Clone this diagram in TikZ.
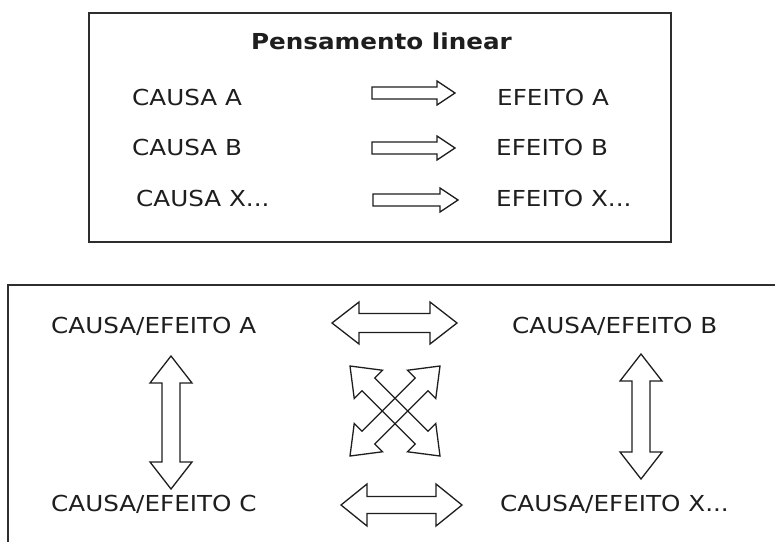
\documentclass[tikz,border=0pt]{standalone}
\usepackage{fontspec}
\setmainfont{DejaVu Sans}[FakeStretch=1.12]
\usetikzlibrary{calc}
\definecolor{ink}{HTML}{1E1E1E}
\definecolor{boxline}{HTML}{2E2E2E}
\tikzset{
  frame/.style={draw=boxline, line width=1.4pt},
  blockarrow/.style={draw=ink, line width=1.3pt, line join=miter},
  lbl/.style={font=\fontsize{22}{26}\selectfont, text=ink, inner sep=0pt, anchor=base west},
  title/.style={font=\fontsize{22}{26}\selectfont\bfseries, text=ink, inner sep=0pt, anchor=base},
}
\newcommand\dblarrow[5]{% tip1, tip2, head length, head half width, shaft half width
  \path ($(#1)!#3!(#2)$) coordinate (da) ($(#2)!#3!(#1)$) coordinate (db);
  \draw[blockarrow] (#1) -- ($(da)!#4!90:(#2)$) -- ($(da)!#5!90:(#2)$)
    -- ($(db)!#5!-90:(#1)$) -- ($(db)!#4!-90:(#1)$) -- (#2)
    -- ($(db)!#4!90:(#1)$) -- ($(db)!#5!90:(#1)$)
    -- ($(da)!#5!-90:(#2)$) -- ($(da)!#4!-90:(#2)$) -- cycle;
}
\newcommand\sglarrow[5]{% tail, tip, head length, head half width, shaft half width
  \path ($(#2)!#3!(#1)$) coordinate (sa);
  \draw[blockarrow] ($(#1)!#5!90:(#2)$) -- ($(sa)!#5!-90:(#1)$) -- ($(sa)!#4!-90:(#1)$)
    -- (#2) -- ($(sa)!#4!90:(#1)$) -- ($(sa)!#5!90:(#1)$) -- ($(#1)!#5!-90:(#2)$) -- cycle;
}
\begin{document}
\begin{tikzpicture}[x=1pt,y=-1pt]
\useasboundingbox (0,0) rectangle (775,541);
\clip (0,0) rectangle (775,541);
\fill[white] (0,0) rectangle (775,541);

% top box
\draw[frame] (89,13) rectangle (671,242);
\node[title] (ttl) at (381.5,49) {Pensamento linear};
\node[lbl] (ca) at (132,105) {CAUSA A};
\node[lbl] (cb) at (132,155) {CAUSA B};
\node[lbl] (cx) at (136,206) {CAUSA X...};
\node[lbl] (ea) at (497,105) {EFEITO A};
\node[lbl] (eb) at (496,155) {EFEITO B};
\node[lbl] (ex) at (496,206) {EFEITO X...};

\coordinate (a1t) at (372,93);  \coordinate (a1h) at (455,93);
\coordinate (a2t) at (372,148); \coordinate (a2h) at (455,148);
\coordinate (a3t) at (373,200); \coordinate (a3h) at (458,200);
\sglarrow{a1t}{a1h}{18pt}{12pt}{6pt}
\sglarrow{a2t}{a2h}{18pt}{12pt}{6pt}
\sglarrow{a3t}{a3h}{18pt}{12pt}{6pt}

% bottom box
\draw[frame] (8,285) rectangle (800,570);
\node[lbl] (cea) at (51,333) {CAUSA/EFEITO A};
\node[lbl] (ceb) at (512,333) {CAUSA/EFEITO B};
\node[lbl] (cec) at (51,511) {CAUSA/EFEITO C};
\node[lbl] (cex) at (500,511) {CAUSA/EFEITO X...};

\coordinate (h1l) at (332,323); \coordinate (h1r) at (457,323);
\coordinate (h2l) at (341,505); \coordinate (h2r) at (462,505);
\coordinate (v1t) at (171,356); \coordinate (v1b) at (171,489);
\coordinate (v2t) at (641,354); \coordinate (v2b) at (641,479);
\coordinate (x1a) at (350,366); \coordinate (x1b) at (440,456);
\coordinate (x2a) at (440,366); \coordinate (x2b) at (350,456);

\dblarrow{h1l}{h1r}{27pt}{21pt}{9.5pt}
\dblarrow{h2l}{h2r}{26pt}{21pt}{8.5pt}
\dblarrow{v1t}{v1b}{27pt}{21pt}{9pt}
\dblarrow{v2t}{v2b}{27pt}{21pt}{9pt}
\dblarrow{x1a}{x1b}{26pt}{20pt}{9pt}
\dblarrow{x2a}{x2b}{26pt}{20pt}{9pt}
\end{tikzpicture}
\end{document}
